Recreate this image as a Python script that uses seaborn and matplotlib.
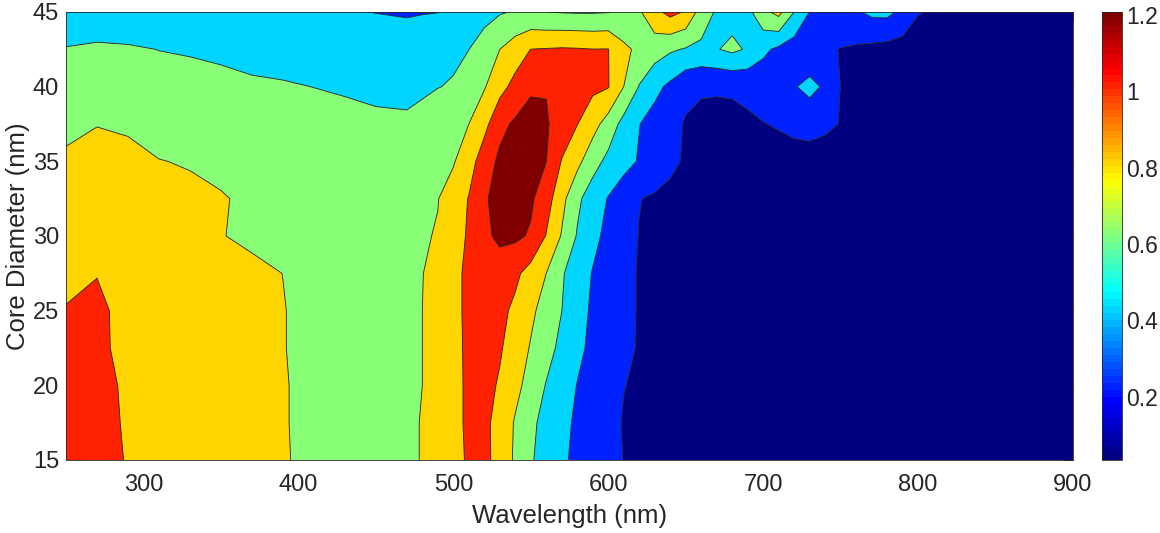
import matplotlib
matplotlib.use("Agg")
import matplotlib.pyplot as plt
import numpy as np
import seaborn as sns
from matplotlib.colors import LinearSegmentedColormap, Normalize
from matplotlib.cm import ScalarMappable

# Sampling grid
wavelength_nm = [250, 270, 290, 310, 330, 350, 370, 390, 410, 430, 450, 470, 480, 490, 500,
                 510, 520, 530, 540, 550, 560, 570, 580, 590, 600, 610, 620, 630, 640, 650,
                 660, 670, 680, 690, 700, 710, 720, 730, 740, 750, 760, 770, 780, 790, 800,
                 820, 840, 860, 880, 900]
core_diameter_nm = [15, 17.5, 20, 22.5, 25, 27.5, 30, 32.5, 35, 37.5, 40, 42.5, 45]

# Extinction along wavelength, one list per core diameter
ext_d15_0 = [1.06, 1.03, 0.995, 0.96, 0.92, 0.89, 0.85, 0.81, 0.77, 0.72,
             0.73, 0.78, 0.805, 0.88, 0.95, 1.02, 1.05, 0.93, 0.77, 0.62,
             0.52, 0.43, 0.36, 0.31, 0.25, 0.197, 0.17, 0.15, 0.13, 0.10,
             0.08, 0.08, 0.075, 0.075, 0.07, 0.07, 0.065, 0.065, 0.06, 0.06,
             0.055, 0.055, 0.05, 0.05, 0.045, 0.045, 0.04, 0.04, 0.035, 0.035]
ext_d17_5 = [1.06, 1.03, 0.99, 0.96, 0.92, 0.88, 0.85, 0.81, 0.76, 0.72,
             0.73, 0.78, 0.805, 0.88, 0.95, 1.03, 1.04, 0.94, 0.78, 0.64,
             0.54, 0.45, 0.37, 0.31, 0.25, 0.19, 0.17, 0.15, 0.12, 0.10,
             0.085, 0.085, 0.08, 0.075, 0.075, 0.07, 0.07, 0.065, 0.065, 0.06,
             0.06, 0.055, 0.055, 0.05, 0.05, 0.045, 0.045, 0.04, 0.04, 0.035]
ext_d20_0 = [1.05, 1.02, 0.99, 0.95, 0.92, 0.88, 0.84, 0.81, 0.76, 0.72,
             0.73, 0.78, 0.80, 0.88, 0.95, 1.03, 1.06, 0.98, 0.86, 0.72,
             0.59, 0.49, 0.395, 0.33, 0.27, 0.204, 0.18, 0.16, 0.13, 0.11,
             0.09, 0.09, 0.085, 0.08, 0.08, 0.075, 0.075, 0.07, 0.07, 0.065,
             0.065, 0.06, 0.06, 0.055, 0.055, 0.05, 0.045, 0.045, 0.04, 0.04]
ext_d22_5 = [1.03, 1.015, 0.98, 0.945, 0.91, 0.87, 0.84, 0.805, 0.76, 0.71,
             0.73, 0.78, 0.80, 0.88, 0.955, 1.03, 1.08, 1.02, 0.91, 0.785,
             0.67, 0.55, 0.44, 0.36, 0.30, 0.23, 0.19, 0.165, 0.14, 0.12,
             0.10, 0.095, 0.09, 0.085, 0.085, 0.08, 0.08, 0.075, 0.075, 0.07,
             0.07, 0.065, 0.065, 0.06, 0.06, 0.055, 0.05, 0.05, 0.045, 0.045]
ext_d25_0 = [1.005, 1.02, 0.97, 0.94, 0.905, 0.87, 0.84, 0.805, 0.76, 0.71,
             0.73, 0.78, 0.80, 0.88, 0.95, 1.04, 1.11, 1.05, 0.96, 0.84,
             0.72, 0.601, 0.475, 0.37, 0.31, 0.24, 0.19, 0.17, 0.15, 0.13,
             0.11, 0.105, 0.10, 0.095, 0.09, 0.085, 0.085, 0.08, 0.08, 0.075,
             0.075, 0.07, 0.07, 0.065, 0.065, 0.06, 0.055, 0.055, 0.05, 0.05]
ext_d27_5 = [0.975, 0.997, 0.96, 0.93, 0.895, 0.86, 0.83, 0.799, 0.75, 0.71,
             0.73, 0.775, 0.795, 0.87, 0.95, 1.04, 1.12, 1.13, 1.04, 0.925,
             0.80, 0.62, 0.50, 0.39, 0.32, 0.24, 0.19, 0.17, 0.155, 0.135,
             0.12, 0.11, 0.105, 0.10, 0.095, 0.09, 0.09, 0.085, 0.085, 0.08,
             0.08, 0.075, 0.075, 0.07, 0.07, 0.065, 0.06, 0.06, 0.055, 0.055]
ext_d30_0 = [0.93, 0.905, 0.88, 0.855, 0.83, 0.805, 0.775, 0.745, 0.715, 0.715,
             0.745, 0.77, 0.785, 0.81, 0.91, 1.025, 1.17, 1.23, 1.235, 1.18,
             0.99, 0.785, 0.585, 0.45, 0.35, 0.265, 0.195, 0.175, 0.155, 0.135,
             0.12, 0.115, 0.11, 0.105, 0.10, 0.10, 0.10, 0.095, 0.095, 0.09,
             0.09, 0.085, 0.085, 0.08, 0.08, 0.075, 0.07, 0.065, 0.06, 0.06]
ext_d32_5 = [0.88, 0.865, 0.85, 0.835, 0.815, 0.81, 0.775, 0.75, 0.725, 0.72,
             0.745, 0.77, 0.785, 0.795, 0.88, 1.01, 1.19, 1.23, 1.24, 1.23,
             1.09, 0.86, 0.64, 0.50, 0.39, 0.29, 0.205, 0.18, 0.165, 0.145,
             0.13, 0.125, 0.12, 0.115, 0.115, 0.11, 0.11, 0.11, 0.105, 0.105,
             0.10, 0.10, 0.095, 0.095, 0.09, 0.085, 0.08, 0.075, 0.07, 0.065]
ext_d35_0 = [0.83, 0.835, 0.82, 0.802, 0.795, 0.765, 0.75, 0.73, 0.725, 0.74,
             0.76, 0.77, 0.775, 0.78, 0.785, 0.91, 1.11, 1.235, 1.24, 1.23,
             1.202, 0.99, 0.855, 0.675, 0.55, 0.465, 0.385, 0.305, 0.23, 0.185,
             0.165, 0.145, 0.14, 0.135, 0.13, 0.13, 0.13, 0.13, 0.13, 0.125,
             0.12, 0.115, 0.11, 0.105, 0.10, 0.09, 0.085, 0.08, 0.075, 0.07]
ext_d37_5 = [0.755, 0.797, 0.79, 0.77, 0.75, 0.73, 0.71, 0.69, 0.67, 0.655,
             0.635, 0.615, 0.66, 0.705, 0.75, 0.80, 0.94, 1.15, 1.23, 1.24,
             1.22, 1.11, 1.005, 0.875, 0.715, 0.535, 0.405, 0.33, 0.265, 0.185,
             0.17, 0.16, 0.16, 0.175, 0.195, 0.215, 0.245, 0.26, 0.23, 0.195,
             0.18, 0.17, 0.155, 0.145, 0.135, 0.12, 0.11, 0.10, 0.09, 0.085]
ext_d40_0 = [0.68, 0.67, 0.66, 0.65, 0.64, 0.635, 0.62, 0.615, 0.598, 0.58,
             0.56, 0.575, 0.57, 0.595, 0.615, 0.71, 0.785, 0.935, 1.06, 1.185,
             1.19, 1.145, 1.09, 1.04, 1.01, 0.80, 0.59, 0.45, 0.36, 0.25,
             0.215, 0.215, 0.22, 0.24, 0.28, 0.315, 0.385, 0.46, 0.37, 0.198,
             0.18, 0.16, 0.14, 0.125, 0.115, 0.105, 0.095, 0.09, 0.085, 0.08]
ext_d42_5 = [0.605, 0.62, 0.615, 0.598, 0.59, 0.575, 0.555, 0.53, 0.515, 0.50,
             0.485, 0.47, 0.50, 0.535, 0.565, 0.598, 0.695, 0.80, 0.90, 1.002,
             1.01, 1.018, 1.013, 1.003, 1.005, 0.84, 0.76, 0.69, 0.625, 0.585,
             0.56, 0.59, 0.64, 0.58, 0.44, 0.36, 0.30, 0.24, 0.225, 0.195,
             0.175, 0.155, 0.135, 0.12, 0.11, 0.10, 0.095, 0.09, 0.085, 0.08]
ext_d45_0 = [0.53, 0.515, 0.50, 0.49, 0.475, 0.46, 0.45, 0.435, 0.42, 0.41,
             0.397, 0.387, 0.392, 0.397, 0.42, 0.475, 0.53, 0.583, 0.615, 0.62,
             0.601, 0.59, 0.585, 0.585, 0.593, 0.635, 0.775, 0.945, 1.06, 0.98,
             0.71, 0.575, 0.53, 0.54, 0.75, 0.86, 0.60, 0.395, 0.36, 0.33,
             0.375, 0.44, 0.45, 0.35, 0.21, 0.16, 0.13, 0.11, 0.10, 0.09]

extinction_rows = [ext_d15_0, ext_d17_5, ext_d20_0, ext_d22_5, ext_d25_0, ext_d27_5,
                   ext_d30_0, ext_d32_5, ext_d35_0, ext_d37_5, ext_d40_0, ext_d42_5,
                   ext_d45_0]

contour_levels = [0.2, 0.4, 0.6, 0.8, 1.0, 1.2]
x_ticks = [300, 400, 500, 600, 700, 800, 900]
y_ticks = [15, 20, 25, 30, 35, 40, 45]
colorbar_ticks = [0.2, 0.4, 0.6, 0.8, 1.0, 1.2]
colorbar_labels = ["0.2", "0.4", "0.6", "0.8", "1", "1.2"]
colorbar_limits = (0.035, 1.207)

sns.set_theme(style="white")
plt.rcParams["font.family"] = ["Liberation Sans", "DejaVu Sans"]

INK = "#262626"

# Classic jet colormap (64 steps)
jet = LinearSegmentedColormap(
    "classic_jet",
    {
        "red":   [(0.0, 0.0, 0.0), (0.375, 0.0, 0.0), (0.625, 1.0, 1.0),
                  (0.875, 1.0, 1.0), (1.0, 0.5, 0.5)],
        "green": [(0.0, 0.0, 0.0), (0.125, 0.0, 0.0), (0.375, 1.0, 1.0),
                  (0.625, 1.0, 1.0), (0.875, 0.0, 0.0), (1.0, 0.0, 0.0)],
        "blue":  [(0.0, 0.5, 0.5), (0.125, 1.0, 1.0), (0.375, 1.0, 1.0),
                  (0.625, 0.0, 0.0), (1.0, 0.0, 0.0)],
    },
    N=64,
)

z = np.array(extinction_rows)
X, Y = np.meshgrid(wavelength_nm, core_diameter_nm)

fill_levels = [0.0] + contour_levels + [1.3]
band_colors = [jet(i / 6) for i in range(7)]

W, H = 1160, 533
fig = plt.figure(figsize=(W / 100, H / 100), dpi=100)
ax = fig.add_axes([66 / W, 1 - 460 / H, (1073 - 66) / W, (460 - 12) / H])
cax = fig.add_axes([1102 / W, 1 - 460 / H, 20 / W, (460 - 12) / H])

ax.contourf(X, Y, z, levels=fill_levels, colors=band_colors, antialiased=True)
ax.contour(X, Y, z, levels=contour_levels, colors="#1f1f1f", linewidths=0.6)

ax.set_xlim(250, 900)
ax.set_ylim(15, 45)
ax.set_xticks(x_ticks)
ax.set_yticks(y_ticks)
ax.tick_params(axis="both", direction="in", length=7, width=0.6, colors=INK,
               labelsize=17, top=True, right=True)
ax.tick_params(axis="x", pad=10)
ax.tick_params(axis="y", pad=5)
for s in ax.spines.values():
    s.set_linewidth(0.6)
    s.set_color(INK)
    s.set_visible(True)

ax.set_xlabel("Wavelength (nm)", fontsize=18.5, color=INK, labelpad=6)
ax.set_ylabel("Core Diameter (nm)", fontsize=18.5, color=INK, labelpad=2)

sm = ScalarMappable(norm=Normalize(*colorbar_limits), cmap=jet)
cb = fig.colorbar(sm, cax=cax, ticks=colorbar_ticks)
cb.ax.set_yticklabels(colorbar_labels)
cb.outline.set_linewidth(0.6)
cb.outline.set_edgecolor(INK)
cax.tick_params(direction="in", length=4, width=0.6, colors=INK, labelsize=16.5, pad=3)

fig.savefig("out.png", dpi=100, facecolor="white")
